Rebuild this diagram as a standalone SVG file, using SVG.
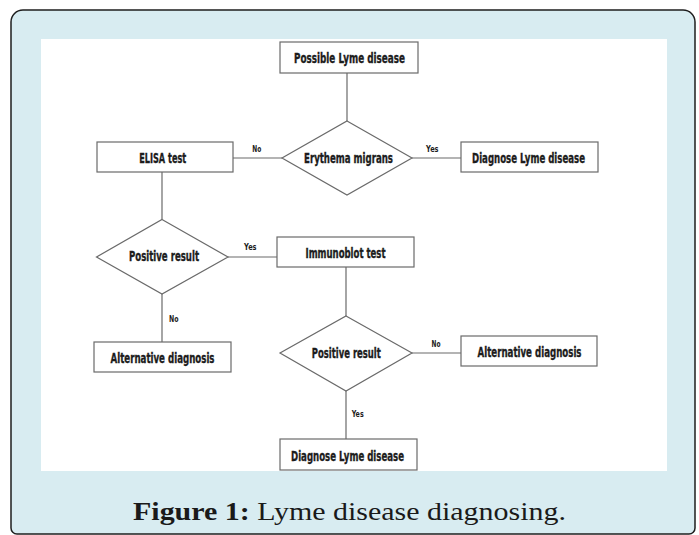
<svg xmlns="http://www.w3.org/2000/svg" width="699" height="535" viewBox="0 0 699 535">
<style>
.box{fill:#fff;stroke:#6a6a6a;stroke-width:1.2}
.dia{fill:#fff;stroke:#6a6a6a;stroke-width:1.2}
.ln{stroke:#6a6a6a;stroke-width:1.2;fill:none}
.t{font-family:"DejaVu Sans Condensed","DejaVu Sans",sans-serif;font-weight:bold;font-size:13.5px;fill:#1c1c1c;stroke:#1c1c1c;stroke-width:0.35;text-anchor:middle}
.l{font-family:"DejaVu Sans Condensed","DejaVu Sans",sans-serif;font-weight:bold;font-size:9px;fill:#1c1c1c}
.cap{font-family:"Liberation Serif","DejaVu Serif",serif;font-size:26px;fill:#1a1a1a;text-anchor:middle}
</style>
<path d="M23,10 H683 A12,12 0 0 1 695,22 V528 A6,6 0 0 1 689,534 H17 A6,6 0 0 1 11,528 V22 A12,12 0 0 1 23,10 Z" fill="#d8ecf1" stroke="#1e1e1e" stroke-width="1.5"/>
<rect x="41" y="39" width="626" height="432" fill="#fff"/>
<g id="connectors">
<line class="ln" x1="347" y1="73" x2="347" y2="121"/>
<line class="ln" x1="282" y1="158" x2="233" y2="158"/>
<line class="ln" x1="412" y1="158" x2="461" y2="158"/>
<line class="ln" x1="162" y1="172" x2="162" y2="219.5"/>
<line class="ln" x1="228" y1="257" x2="277" y2="257"/>
<line class="ln" x1="162" y1="294" x2="162" y2="342"/>
<line class="ln" x1="346" y1="267" x2="346" y2="316"/>
<line class="ln" x1="412" y1="353" x2="461" y2="353"/>
<line class="ln" x1="346" y1="391" x2="346" y2="439"/>
<text class="l" x="256.7" y="152" text-anchor="middle" textLength="9" lengthAdjust="spacingAndGlyphs">No</text>
<text class="l" x="432.3" y="152" text-anchor="middle" textLength="12.5" lengthAdjust="spacingAndGlyphs">Yes</text>
<text class="l" x="250.3" y="250" text-anchor="middle" textLength="12.5" lengthAdjust="spacingAndGlyphs">Yes</text>
<text class="l" x="169" y="321.7" textLength="9.5" lengthAdjust="spacingAndGlyphs">No</text>
<text class="l" x="436" y="347.3" text-anchor="middle" textLength="9" lengthAdjust="spacingAndGlyphs">No</text>
<text class="l" x="351.7" y="416.7" textLength="12" lengthAdjust="spacingAndGlyphs">Yes</text>
</g>
<g id="possible">
<rect class="box" x="280" y="42" width="138" height="31"/>
<text class="t" x="349.5" y="62.5" textLength="111" lengthAdjust="spacingAndGlyphs">Possible Lyme disease</text>
</g>
<g id="erythema">
<polygon class="dia" points="347,121 412,158 347,195 282,158"/>
<text class="t" x="348.5" y="162.5" textLength="89" lengthAdjust="spacingAndGlyphs">Erythema migrans</text>
</g>
<g id="elisa">
<rect class="box" x="97" y="142" width="136" height="30"/>
<text class="t" x="162.7" y="162.5" textLength="47" lengthAdjust="spacingAndGlyphs">ELISA test</text>
</g>
<g id="diagnose1">
<rect class="box" x="461" y="142" width="137" height="30"/>
<text class="t" x="528.5" y="162.5" textLength="113" lengthAdjust="spacingAndGlyphs">Diagnose Lyme disease</text>
</g>
<g id="positive1">
<polygon class="dia" points="162,219.5 228,257 162,294 96.5,257"/>
<text class="t" x="164" y="261" textLength="70" lengthAdjust="spacingAndGlyphs">Positive result</text>
</g>
<g id="immunoblot">
<rect class="box" x="277" y="237" width="137" height="30"/>
<text class="t" x="345.5" y="257.8" textLength="80" lengthAdjust="spacingAndGlyphs">Immunoblot test</text>
</g>
<g id="alternative1">
<rect class="box" x="94" y="342" width="137" height="30"/>
<text class="t" x="162.5" y="362.8" textLength="104" lengthAdjust="spacingAndGlyphs">Alternative diagnosis</text>
</g>
<g id="positive2">
<polygon class="dia" points="346,316 412,353 346,391 280,353"/>
<text class="t" x="346.3" y="358.3" textLength="69" lengthAdjust="spacingAndGlyphs">Positive result</text>
</g>
<g id="alternative2">
<rect class="box" x="461" y="336" width="136" height="30"/>
<text class="t" x="529.5" y="356.8" textLength="104" lengthAdjust="spacingAndGlyphs">Alternative diagnosis</text>
</g>
<g id="diagnose2">
<rect class="box" x="280" y="439" width="137" height="31"/>
<text class="t" x="347.5" y="460.8" textLength="113" lengthAdjust="spacingAndGlyphs">Diagnose Lyme disease</text>
</g>
<text class="cap" x="349.5" y="520" textLength="433" lengthAdjust="spacingAndGlyphs"><tspan font-weight="bold">Figure 1:</tspan> Lyme disease diagnosing.</text>
</svg>
